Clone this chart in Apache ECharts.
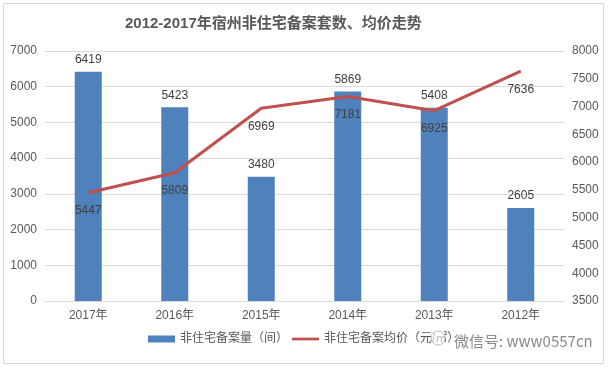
<!DOCTYPE html>
<html><head><meta charset="utf-8">
<script src="https://cdn.jsdelivr.net/npm/echarts@6/dist/echarts.min.js"></script>
<style>html,body{margin:0;padding:0;background:#fff}#c{width:609px;height:367px}</style>
</head><body><div id="c"></div>
<script>
var categories = ['2017年','2016年','2015年','2014年','2013年','2012年'];
var unitsSold = [6419, 5423, 3480, 5869, 5408, 2605];
var avgPrice = [5447, 5809, 6969, 7181, 6925, 7636];
var leftTicks = [0, 7000, 1000];
var rightTicks = [3500, 8000, 500];
var titleText = '2012-2017年宿州非住宅备案套数、均价走势';
var seriesNames = ['非住宅备案量（间）', '非住宅备案均价（元/㎡）'];
var watermark = '微信号: www0557cn';

var FONT = "'Liberation Sans','Noto Sans CJK SC',sans-serif";
var plain = function(v){ return String(v); };
var chart = echarts.init(document.getElementById('c'), null, {renderer:'canvas'});
chart.setOption({
  animation:false,
  backgroundColor:'#fff',
  textStyle:{fontFamily:FONT},
  title:{text:titleText, left:120, top:11,
    textStyle:{fontSize:15, fontWeight:'bold', color:'#595959', fontFamily:FONT}},
  grid:{left:45, right:45, top:51, bottom:66, containLabel:false},
  legend:{bottom:17, left:143, itemGap:4, itemWidth:27, itemHeight:7,
    textStyle:{fontSize:12, color:'#595959', fontFamily:FONT},
    data:[{name:seriesNames[0], icon:'rect'},
          {name:seriesNames[1], icon:'path://M0,0 L30,0 L30,3 L0,3 Z'}]},
  xAxis:{type:'category', data:categories,
    axisLine:{lineStyle:{color:'#d9d9d9', width:1}},
    axisTick:{show:false},
    axisLabel:{color:'#595959', fontSize:12, margin:9, fontFamily:FONT}},
  yAxis:[
    {type:'value', min:leftTicks[0], max:leftTicks[1], interval:leftTicks[2],
     axisLine:{show:false}, axisTick:{show:false},
     axisLabel:{color:'#595959', fontSize:12, margin:8, fontFamily:FONT, formatter:plain},
     splitLine:{lineStyle:{color:'#d9d9d9', width:1}}},
    {type:'value', min:rightTicks[0], max:rightTicks[1], interval:rightTicks[2],
     axisLine:{show:false}, axisTick:{show:false},
     axisLabel:{color:'#595959', fontSize:12, margin:8, fontFamily:FONT, formatter:plain},
     splitLine:{show:false}}
  ],
  series:[
    {name:seriesNames[0], type:'bar', data:unitsSold, barWidth:27,
     itemStyle:{color:'#4F81BD'},
     label:{show:true, position:'top', distance:6, color:'#404040', fontSize:12, fontFamily:FONT}},
    {name:seriesNames[1], type:'line', yAxisIndex:1, data:avgPrice,
     symbol:'circle', symbolSize:0.1, showSymbol:true,
     lineStyle:{color:'#C0504D', width:3},
     itemStyle:{color:'#C0504D'},
     label:{show:true, position:'bottom', distance:12, color:'#404040', fontSize:12, fontFamily:FONT},
     z:3}
  ],
  graphic:[
    {type:'rect', shape:{x:3.5, y:3.5, width:600, height:360}, style:{fill:null, stroke:'#d9d9d9', lineWidth:1}, silent:true},
    {type:'circle', shape:{cx:438, cy:338, r:7}, style:{fill:'rgba(255,255,255,0.6)', stroke:'#bbb', lineWidth:1}, z:100},
    {type:'text', left:453, top:333, z:100,
     style:{text:watermark, fill:'#8a8a8a', font:"15px 'Noto Sans CJK SC',sans-serif", stroke:'#fff', lineWidth:2}}
  ]
});
</script></body></html>
